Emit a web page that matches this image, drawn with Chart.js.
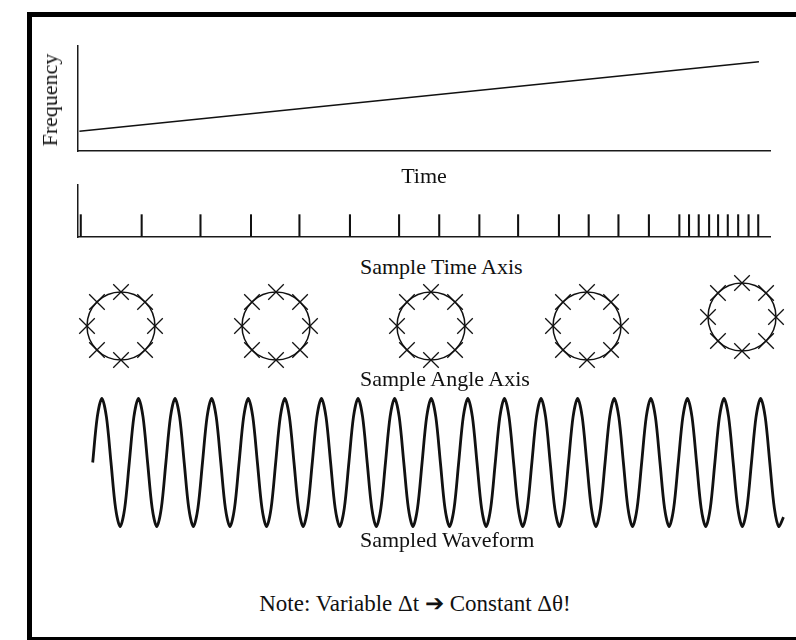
<!DOCTYPE html>
<html>
<head>
<meta charset="utf-8">
<title>Variable sample time, constant sample angle</title>
<script src="https://cdn.jsdelivr.net/npm/chart.js@4.4.1/dist/chart.umd.min.js"></script>
<style>
    html, body { margin: 0; padding: 0; background: #fff; }
    body {
        width: 796px; height: 640px; position: relative; overflow: hidden;
        font-family: 'Liberation Serif', 'Times New Roman', serif; color: #111;
    }
    .frame { position: absolute; left: 27px; top: 12px; width: 800px; height: 620px; border: 5px solid #000; }
    canvas { position: absolute; }
    .label { position: absolute; font-size: 22px; line-height: 22px; white-space: nowrap; }
    .centered { transform: translateX(-50%); }
    .ylabel { position: absolute; font-size: 22px; line-height: 22px; white-space: nowrap; transform: translate(-50%, -50%) rotate(-90deg); }
    .note { position: absolute; font-size: 23px; line-height: 23px; white-space: nowrap; transform: translateX(-50%); }
</style>
</head>
<body>
<div class="frame"></div>

<canvas id="freqChart" width="730" height="140" style="left:60px; top:30px;"></canvas>
<div class="ylabel" style="left:50px; top:100px;">Frequency</div>
<div class="label centered" style="left:424px; top:165px;">Time</div>

<canvas id="sampleTimeChart" width="730" height="75" style="left:60px; top:175px;"></canvas>
<div class="label" style="left:360px; top:256px;">Sample Time Axis</div>

<div id="phasors"></div>
<div class="label" style="left:360px; top:368px;">Sample Angle Axis</div>

<canvas id="waveChart" width="716" height="155" style="left:80px; top:385px;"></canvas>
<div class="label" style="left:360px; top:529px;">Sampled Waveform</div>

<div class="note" style="left:415px; top:592px;">Note: Variable &Delta;t &#10132; Constant &Delta;&theta;!</div>

<script>
// Frequency ramp (time and frequency in arbitrary units)
const rampTime = [0.02, 9.84];
const rampFreq = [0.94, 4.25];

// Sample instants on the time axis, same time units as the ramp
const sampleTimes = [0.04, 0.92, 1.77, 2.50, 3.20, 3.93, 4.64, 5.22, 5.80, 6.36,
    6.95, 7.38, 7.81, 8.25, 8.69, 8.83, 8.97, 9.12, 9.25, 9.39, 9.54, 9.69, 9.83];
const tickHeight = 0.43;

// Sample angles on each phasor circle (constant step)
const sampleAngles = ['0°', '45°', '90°', '135°', '180°', '225°', '270°', '315°'];
const phasorRadius = [1, 1, 1, 1, 1, 1, 1, 1];
const phasorCount = 5;

// Sampled waveform, one value per sample
const waveform = [
    0, 0.71, 1, 0.71, 0, -0.71, -1, -0.71,
    0, 0.71, 1, 0.71, 0, -0.71, -1, -0.71,
    0, 0.71, 1, 0.71, 0, -0.71, -1, -0.71,
    0, 0.71, 1, 0.71, 0, -0.71, -1, -0.71,
    0, 0.71, 1, 0.71, 0, -0.71, -1, -0.71,
    0, 0.71, 1, 0.71, 0, -0.71, -1, -0.71,
    0, 0.71, 1, 0.71, 0, -0.71, -1, -0.71,
    0, 0.71, 1, 0.71, 0, -0.71, -1, -0.71,
    0, 0.71, 1, 0.71, 0, -0.71, -1, -0.71,
    0, 0.71, 1, 0.71, 0, -0.71, -1, -0.71,
    0, 0.71, 1, 0.71, 0, -0.71, -1, -0.71,
    0, 0.71, 1, 0.71, 0, -0.71, -1, -0.71,
    0, 0.71, 1, 0.71, 0, -0.71, -1, -0.71,
    0, 0.71, 1, 0.71, 0, -0.71, -1, -0.71,
    0, 0.71, 1, 0.71, 0, -0.71, -1, -0.71,
    0, 0.71, 1, 0.71, 0, -0.71, -1, -0.71,
    0, 0.71, 1, 0.71, 0, -0.71, -1, -0.71,
    0, 0.71, 1, 0.71, 0, -0.71, -1, -0.71,
    0, 0.71, 1, 0.71, 0, -0.71, -1, -0.85
];

const INK = '#111';

// Axis with only its line, no ticks or labels
function bareAxis(min, max, showLine) {
    return {
        type: 'linear', min: min, max: max, offset: false,
        grid: { display: false, drawTicks: false },
        ticks: { display: false },
        border: { display: showLine, color: '#1a1a1a', width: 1.5 }
    };
}

function baseOptions(padding) {
    return {
        responsive: false,
        animation: false,
        events: [],
        layout: { padding: padding },
        plugins: { legend: { display: false }, tooltip: { enabled: false } }
    };
}

// Frequency vs time
new Chart(document.getElementById('freqChart'), {
    type: 'line',
    data: {
        datasets: [{
            data: rampTime.map((t, i) => ({ x: t, y: rampFreq[i] })),
            borderColor: INK,
            borderWidth: 1.5,
            pointRadius: 0,
            clip: false
        }]
    },
    options: Object.assign(baseOptions({ left: 18, right: 20, top: 16, bottom: 19 }), {
        scales: { x: bareAxis(0, 10, true), y: bareAxis(0, 5, true) }
    })
});

// Sample time axis: one short bar per sample instant
new Chart(document.getElementById('sampleTimeChart'), {
    type: 'bar',
    data: {
        datasets: [{
            data: sampleTimes.map(t => ({ x: t, y: [0, tickHeight] })),
            backgroundColor: INK,
            barThickness: 1.4
        }]
    },
    options: Object.assign(baseOptions({ left: 18, right: 20, top: 10, bottom: 13 }), {
        scales: { x: bareAxis(0, 10, true), y: bareAxis(0, 1, true) }
    })
});

// Phasor circles with sample angle markers
const phasorBox = [
    { left: 71, top: 276 },
    { left: 226, top: 276 },
    { left: 381, top: 276 },
    { left: 537, top: 276 },
    { left: 692, top: 267 }
];
const holder = document.getElementById('phasors');
for (let k = 0; k < phasorCount; k++) {
    const c = document.createElement('canvas');
    c.width = 100;
    c.height = 100;
    c.style.left = phasorBox[k].left + 'px';
    c.style.top = phasorBox[k].top + 'px';
    holder.appendChild(c);

    new Chart(c, {
        type: 'radar',
        data: {
            labels: sampleAngles,
            datasets: [{
                data: phasorRadius,
                showLine: false,
                fill: false,
                pointStyle: 'crossRot',
                pointRadius: 11,
                pointBorderColor: INK,
                pointBorderWidth: 1.3,
                pointBackgroundColor: 'transparent',
                clip: false
            }]
        },
        options: Object.assign(baseOptions(16), {
            scales: {
                r: {
                    min: 0, max: 1,
                    ticks: { display: false, stepSize: 1 },
                    pointLabels: { display: false },
                    angleLines: { display: false },
                    grid: { circular: true, color: INK, lineWidth: 1.5 }
                }
            }
        })
    });
}

// Sampled waveform
new Chart(document.getElementById('waveChart'), {
    type: 'line',
    data: {
        labels: waveform.map((_, i) => i),
        datasets: [{
            data: waveform,
            borderColor: INK,
            borderWidth: 2.8,
            pointRadius: 0,
            tension: 0.3,
            fill: false,
            clip: false
        }]
    },
    options: Object.assign(baseOptions({ left: 12.7, right: 12.5, top: 13.3, bottom: 13.3 }), {
        scales: {
            x: { display: false },
            y: { display: false, min: -1, max: 1 }
        }
    })
});
</script>
</body>
</html>
